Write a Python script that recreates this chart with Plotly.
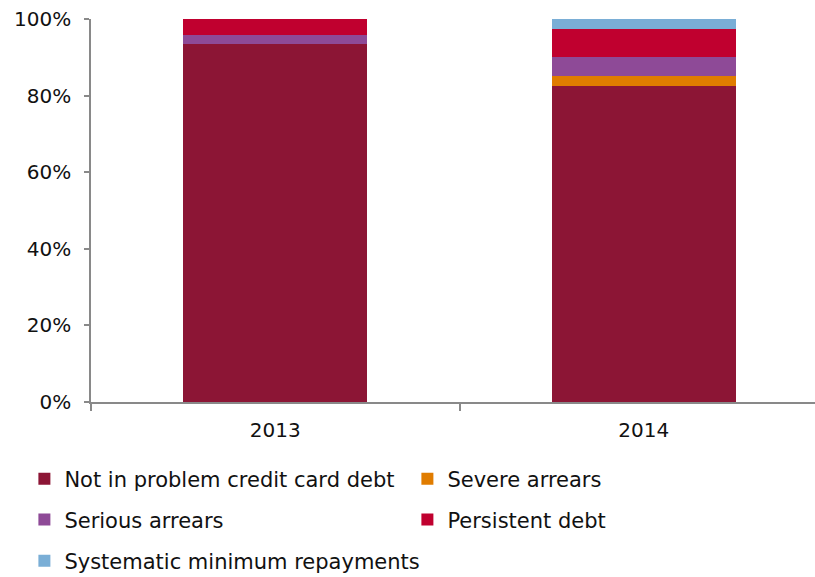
import plotly.graph_objects as go

years = ["2013", "2014"]
series_names = [
    "Not in problem credit card debt",
    "Severe arrears",
    "Serious arrears",
    "Persistent debt",
    "Systematic minimum repayments",
]
not_in_problem = [93.4, 82.5]
severe_arrears = [0.0, 2.6]
serious_arrears = [2.3, 5.1]
persistent_debt = [4.3, 7.1]
systematic_min = [0.0, 2.7]

y_tick_values = [0, 20, 40, 60, 80, 100]
y_tick_labels = ["0%", "20%", "40%", "60%", "80%", "100%"]

values = [not_in_problem, severe_arrears, serious_arrears, persistent_debt, systematic_min]
colors = ["#8C1535", "#E07C00", "#8E4A97", "#C0002F", "#7AAED6"]
legend_ids = ["legend", "legend", "legend2", "legend2", "legend3"]

FONT = "DejaVu Sans, Verdana, sans-serif"
AXIS_GREY = "#898989"
TEXT = "#111111"

fig = go.Figure()
for name, vals, col, lg in zip(series_names, values, colors, legend_ids):
    fig.add_trace(go.Bar(
        x=years, y=vals, name=name, legend=lg,
        marker=dict(color=col, line=dict(width=0)),
        width=0.5,
    ))

# three legend rows; the first two use a fixed entry width to form two columns
row_y = [-0.2010, -0.3080, -0.4151]
legend_common = dict(
    orientation="h", x=-0.092, xanchor="left", yanchor="middle",
    font=dict(family=FONT, size=21, color=TEXT),
    bgcolor="rgba(0,0,0,0)", traceorder="normal",
    itemclick=False, itemdoubleclick=False,
)
two_col = dict(entrywidth=338, entrywidthmode="pixels")

fig.update_layout(
    width=815, height=577,
    margin=dict(l=91, r=0, t=19, b=175, autoexpand=False),
    paper_bgcolor="white", plot_bgcolor="white",
    barmode="stack", bargap=0.5,
    font=dict(family=FONT, size=20, color=TEXT),
    showlegend=True,
    legend=dict(y=row_y[0], **legend_common, **two_col),
    legend2=dict(y=row_y[1], **legend_common, **two_col),
    legend3=dict(y=row_y[2], **legend_common),
    xaxis=dict(
        type="category", range=[-0.5, 1.4647],
        showline=True, linecolor=AXIS_GREY, linewidth=1.5,
        ticks="outside", tickson="boundaries", ticklen=7, tickcolor=AXIS_GREY, tickwidth=1.5,
        ticklabelstandoff=9,
        showgrid=False, zeroline=False,
        tickfont=dict(family=FONT, size=20, color=TEXT),
    ),
    yaxis=dict(
        range=[0, 100], tickmode="array", tickvals=y_tick_values, ticktext=y_tick_labels,
        showline=True, linecolor=AXIS_GREY, linewidth=1.5,
        ticks="outside", ticklen=5, tickcolor=AXIS_GREY, tickwidth=1.5,
        ticklabelstandoff=9,
        showgrid=False, zeroline=False,
        tickfont=dict(family=FONT, size=20, color=TEXT),
    ),
)

fig.write_html("out.html")
